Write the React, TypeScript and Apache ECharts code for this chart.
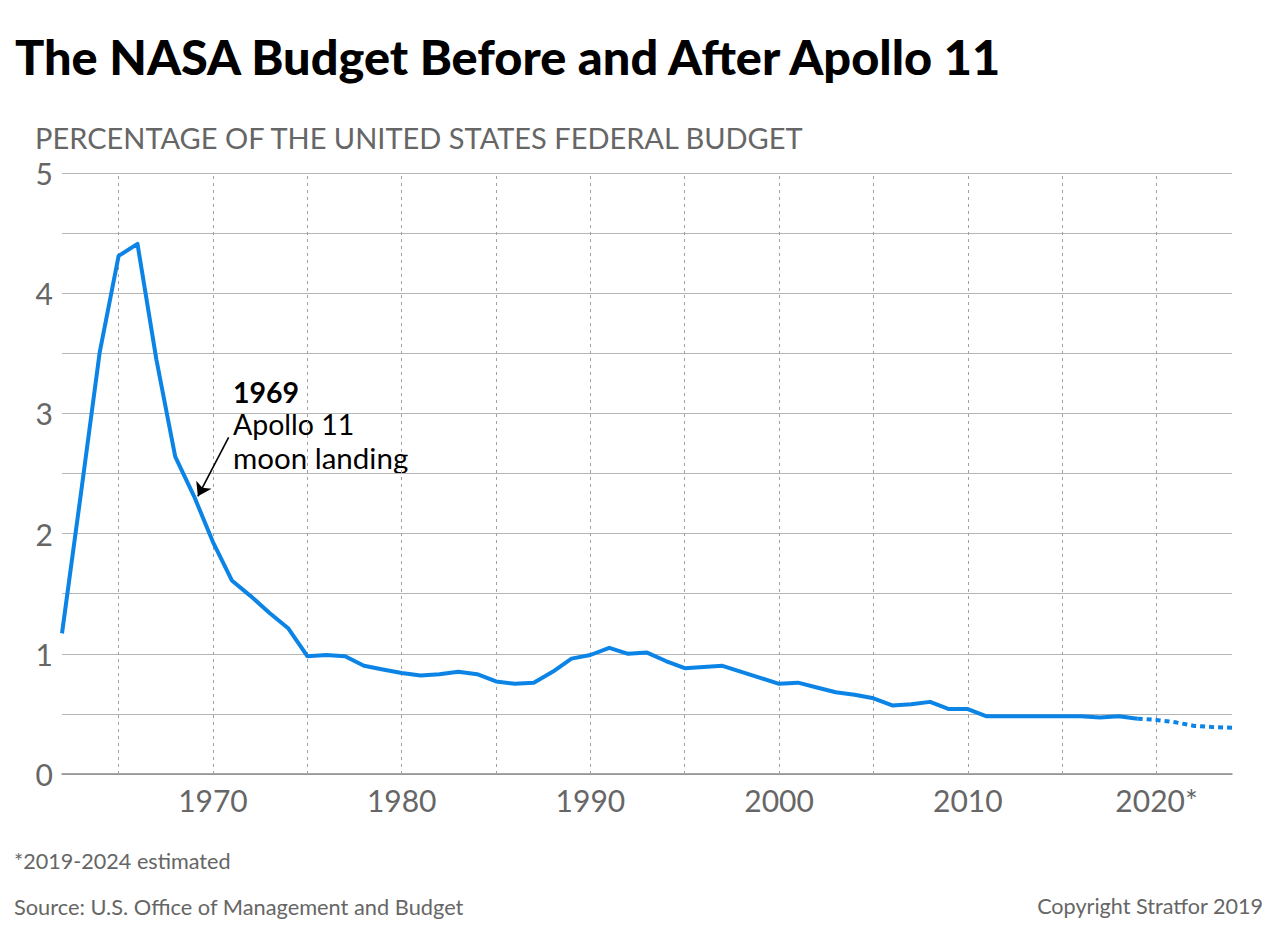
import React, { useEffect, useRef } from "react";
import * as echarts from "echarts";

// Actual NASA budget as % of US federal budget
const actualYears = [
  1962, 1963, 1964, 1965, 1966, 1967, 1968, 1969, 1970, 1971,
  1972, 1973, 1974, 1975, 1976, 1977, 1978, 1979, 1980, 1981,
  1982, 1983, 1984, 1985, 1986, 1987, 1988, 1989, 1990, 1991,
  1992, 1993, 1994, 1995, 1996, 1997, 1998, 1999, 2000, 2001,
  2002, 2003, 2004, 2005, 2006, 2007, 2008, 2009, 2010, 2011,
  2012, 2013, 2014, 2015, 2016, 2017, 2018, 2019,
];
const actualValues = [
  1.17, 2.33, 3.51, 4.31, 4.41, 3.45, 2.64, 2.31, 1.93, 1.61,
  1.48, 1.34, 1.21, 0.98, 0.99, 0.98, 0.9, 0.87, 0.84, 0.82,
  0.83, 0.85, 0.83, 0.77, 0.75, 0.76, 0.85, 0.96, 0.99, 1.05,
  1.0, 1.01, 0.94, 0.88, 0.89, 0.9, 0.85, 0.8, 0.75, 0.76,
  0.72, 0.68, 0.66, 0.63, 0.57, 0.58, 0.6, 0.54, 0.54, 0.48,
  0.48, 0.48, 0.48, 0.48, 0.48, 0.47, 0.48, 0.46,
];

// Estimated (2019-2024)
const estimatedYears = [2019, 2020, 2021, 2022, 2023, 2024];
const estimatedValues = [0.46, 0.45, 0.43, 0.4, 0.39, 0.385];

// Axis labels
const xLabelYears = [1970, 1980, 1990, 2000, 2010, 2020];
const xLabelTexts = ["1970", "1980", "1990", "2000", "2010", "2020*"];
const verticalGridYears = [1965, 1970, 1975, 1980, 1985, 1990, 1995, 2000, 2005, 2010, 2015, 2020];
const yLabelValues = [0, 1, 2, 3, 4, 5];

const titleText = "The NASA Budget Before and After Apollo 11";
const subtitleText = "PERCENTAGE OF THE UNITED STATES FEDERAL BUDGET";
const annoYear = "1969";
const annoLine1 = "Apollo 11";
const annoLine2 = "moon landing";
const footnoteText = "*2019-2024 estimated";
const sourceText = "Source: U.S. Office of Management and Budget";
const copyrightText = "Copyright Stratfor 2019";

const BLUE = "#0B84E6";
const GRAY_TEXT = "#666666";

function measure(text: string, font: string): number {
  const c = document.createElement("canvas");
  const ctx = c.getContext("2d");
  if (!ctx) return 0;
  ctx.font = font;
  return ctx.measureText(text).width;
}

export default function App() {
  const ref = useRef<HTMLDivElement>(null);

  useEffect(() => {
    if (!ref.current) return;
    const chart = echarts.init(ref.current, null, { renderer: "svg" });

    const titleFont = "900 47px Lato";
    const natural = measure(titleText, titleFont);
    const titleScale = natural > 0 ? 991 / natural : 1;

    const actualData = actualYears.map((y, i) => [y, actualValues[i]]);
    const estData = estimatedYears.map((y, i) => [y, estimatedValues[i]]);

    chart.setOption({
      animation: false,
      backgroundColor: "#ffffff",
      grid: { left: 62, right: 48, top: 173, bottom: 160, containLabel: false },
      xAxis: {
        type: "value",
        min: 1962,
        max: 2024,
        interval: 1,
        axisLine: { show: true, lineStyle: { color: "#8c8c8c", width: 1.5 } },
        axisTick: { show: false },
        splitLine: { show: false },
        axisLabel: {
          color: GRAY_TEXT,
          fontFamily: "Lato",
          fontSize: 30,
          margin: 11,
          formatter: (v: number) => {
            const idx = xLabelYears.indexOf(v);
            return idx >= 0 ? xLabelTexts[idx] : "";
          },
        },
      },
      yAxis: {
        type: "value",
        min: 0,
        max: 5,
        interval: 0.5,
        axisLine: { show: false },
        axisTick: { show: false },
        splitLine: { show: true, lineStyle: { color: "#b5b5b5", width: 1 } },
        axisLabel: {
          color: GRAY_TEXT,
          fontFamily: "Lato",
          fontSize: 30,
          margin: 9,
          formatter: (v: number) => (yLabelValues.indexOf(v) >= 0 ? String(v) : ""),
        },
      },
      series: [
        {
          name: "grid",
          type: "line",
          data: actualData,
          symbol: "none",
          silent: true,
          z: 1,
          lineStyle: { opacity: 0 },
          markLine: {
            silent: true,
            symbol: ["none", "none"],
            label: { show: false },
            lineStyle: { color: "#a0a0a0", type: [3, 4], width: 1 },
            data: verticalGridYears.map((y) => ({ xAxis: y })),
          },
        },
        {
          name: "actual",
          type: "line",
          data: actualData,
          symbol: "none",
          z: 5,
          lineStyle: { color: BLUE, width: 4, join: "round" },
        },
        {
          name: "estimated",
          type: "line",
          data: estData,
          symbol: "none",
          z: 5,
          lineStyle: { color: BLUE, width: 4, type: [5, 4] },
          markLine: {
            silent: true,
            label: { show: false },
            symbolSize: 13,
            lineStyle: { color: "#000000", type: "solid", width: 1.6 },
            data: [
              [
                { coord: [1970.83, 2.8], symbol: "none" },
                { coord: [1969.2, 2.31], symbol: "arrow" },
              ],
            ],
          },
        },
      ],
      graphic: [
        {
          type: "text",
          x: 15,
          y: 57,
          scaleX: titleScale,
          style: {
            text: titleText,
            font: titleFont,
            fill: "#000000",
            textVerticalAlign: "middle",
          },
        },
        {
          type: "text",
          x: 35,
          y: 137,
          style: {
            text: subtitleText,
            font: "400 29px Lato",
            fill: GRAY_TEXT,
            textVerticalAlign: "middle",
          },
        },
        {
          type: "text",
          x: 233,
          y: 392,
          style: { text: annoYear, font: "700 28.5px Lato", fill: "#000000", textVerticalAlign: "middle" },
        },
        {
          type: "text",
          x: 233,
          y: 424,
          style: { text: annoLine1, font: "400 28.5px Lato", fill: "#000000", textVerticalAlign: "middle" },
        },
        {
          type: "text",
          x: 233,
          y: 457,
          style: { text: annoLine2, font: "400 29.5px Lato", fill: "#000000", textVerticalAlign: "middle" },
        },
        {
          type: "text",
          x: 14,
          y: 861,
          style: { text: footnoteText, font: "400 21.6px Lato", fill: GRAY_TEXT, textVerticalAlign: "middle" },
        },
        {
          type: "text",
          x: 14,
          y: 906,
          style: { text: sourceText, font: "400 21.8px Lato", fill: GRAY_TEXT, textVerticalAlign: "middle" },
        },
        {
          type: "text",
          x: 1263,
          y: 906,
          style: {
            text: copyrightText,
            font: "400 21.6px Lato",
            fill: GRAY_TEXT,
            textAlign: "right",
            textVerticalAlign: "middle",
          },
        },
      ],
    });

    return () => chart.dispose();
  }, []);

  return (
    <div
      ref={ref}
      style={{ position: "absolute", left: 0, top: 0, width: 1280, height: 934 }}
    />
  );
}
